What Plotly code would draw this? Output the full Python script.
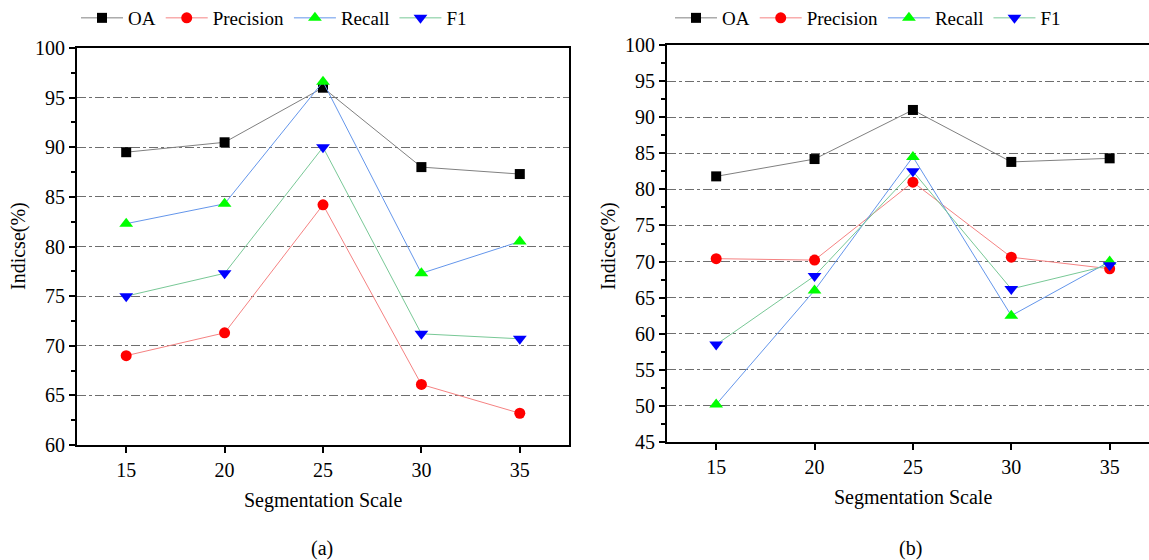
import plotly.graph_objects as go

# Segmentation scales evaluated
scales = [15, 20, 25, 30, 35]

# Panel (a) accuracy indices (%)
oa_a = [89.5, 90.5, 96.0, 88.0, 87.3]
precision_a = [69.0, 71.3, 84.2, 66.1, 63.2]
recall_a = [82.3, 84.3, 96.6, 77.3, 80.5]
f1_a = [75.0, 77.3, 90.0, 71.2, 70.7]

# Panel (b) accuracy indices (%)
oa_b = [81.8, 84.2, 91.0, 83.8, 84.3]
precision_b = [70.4, 70.2, 81.0, 70.6, 69.0]
recall_b = [50.2, 66.0, 84.5, 62.5, 70.0]
f1_b = [58.5, 68.0, 82.5, 66.2, 69.5]

series_names = ["OA", "Precision", "Recall", "F1"]
ticks_a = [60, 65, 70, 75, 80, 85, 90, 95, 100]
ticks_b = [45, 50, 55, 60, 65, 70, 75, 80, 85, 90, 95, 100]

FONT = "Liberation Serif"

# line colour, marker colour, marker symbol, marker size
styles = {
    "OA": ("rgb(128,128,128)", "black", "square", 10),
    "Precision": ("rgb(245,130,130)", "red", "circle", 11),
    "Recall": ("rgb(100,150,235)", "rgb(0,255,0)", "triangle-up", 12),
    "F1": ("rgb(120,200,150)", "blue", "triangle-down", 12),
}

fig = go.Figure()

panels = [
    ("x", "y", "legend", [oa_a, precision_a, recall_a, f1_a]),
    ("x2", "y2", "legend2", [oa_b, precision_b, recall_b, f1_b]),
]
for xa, ya, lg, values in panels:
    for name, vals in zip(series_names, values):
        lc, mc, sym, ms = styles[name]
        fig.add_trace(go.Scatter(
            x=scales, y=vals, name=name, mode="lines+markers",
            xaxis=xa, yaxis=ya, legend=lg,
            line=dict(color=lc, width=1),
            marker=dict(color=mc, symbol=sym, size=ms, line=dict(width=0)),
        ))

H = 560
W = 1149
dom_ax = [77 / W, 569 / W]
dom_bx = [667 / W, 1.0]
dom_ay = [(H - 445) / H, (H - 48) / H]
dom_by = [(H - 442) / H, (H - 45) / H]

xcommon = dict(
    tickvals=scales, ticks="outside", ticklen=6, tickwidth=2, tickcolor="black",
    showline=True, linecolor="black", linewidth=2, showgrid=False, zeroline=False,
    tickfont=dict(family=FONT, size=20, color="black"),
)
ycommon = dict(
    ticks="outside", ticklen=6, tickwidth=2, tickcolor="black",
    showline=True, linecolor="black", linewidth=2, zeroline=False,
    showgrid=True, gridcolor="rgb(110,110,110)", gridwidth=1, griddash="dashdot",
    tickfont=dict(family=FONT, size=20, color="black"),
    minor=dict(ticks="outside", ticklen=4, tickwidth=1.5, tickcolor="black",
               dtick=2.5, showgrid=False),
)

legend_common = dict(
    orientation="h", xanchor="left", y=1 + 1 / H, yanchor="top",
    font=dict(family=FONT, size=19, color="black"),
    bgcolor="rgba(0,0,0,0)", itemwidth=42, tracegroupgap=0,
)

fig.update_layout(
    width=W, height=H,
    margin=dict(l=0, r=0, t=0, b=0, autoexpand=False),
    paper_bgcolor="white", plot_bgcolor="white",
    font=dict(family=FONT, color="black"),
    xaxis=dict(domain=dom_ax, range=[12.5, 37.5], mirror=True, anchor="y", **xcommon),
    yaxis=dict(domain=dom_ay, range=[60, 100], tickvals=ticks_a, mirror=True,
               anchor="x", **ycommon),
    xaxis2=dict(domain=dom_bx, range=[12.5, 37.0], mirror=True, anchor="y2", **xcommon),
    yaxis2=dict(domain=dom_by, range=[45, 100], tickvals=ticks_b, mirror=False,
                anchor="x2", **ycommon),
    legend=dict(x=76 / W, **legend_common),
    legend2=dict(x=670 / W, **legend_common),
)

annotations = [
    dict(text="Indicse(%)", x=18 / W, y=(H - 246) / H, textangle=-90),
    dict(text="Indicse(%)", x=608 / W, y=(H - 246) / H, textangle=-90),
    dict(text="Segmentation Scale", x=323 / W, y=(H - 500) / H),
    dict(text="Segmentation Scale", x=913 / W, y=(H - 497) / H),
    dict(text="(a)", x=322 / W, y=(H - 548) / H),
    dict(text="(b)", x=910 / W, y=(H - 548) / H),
]
for a in annotations:
    fig.add_annotation(
        xref="paper", yref="paper", x=a["x"], y=a["y"], text=a["text"],
        textangle=a.get("textangle", 0), showarrow=False,
        xanchor="center", yanchor="middle",
        font=dict(family=FONT, size=20, color="black"),
    )

fig.write_html("out.html")
